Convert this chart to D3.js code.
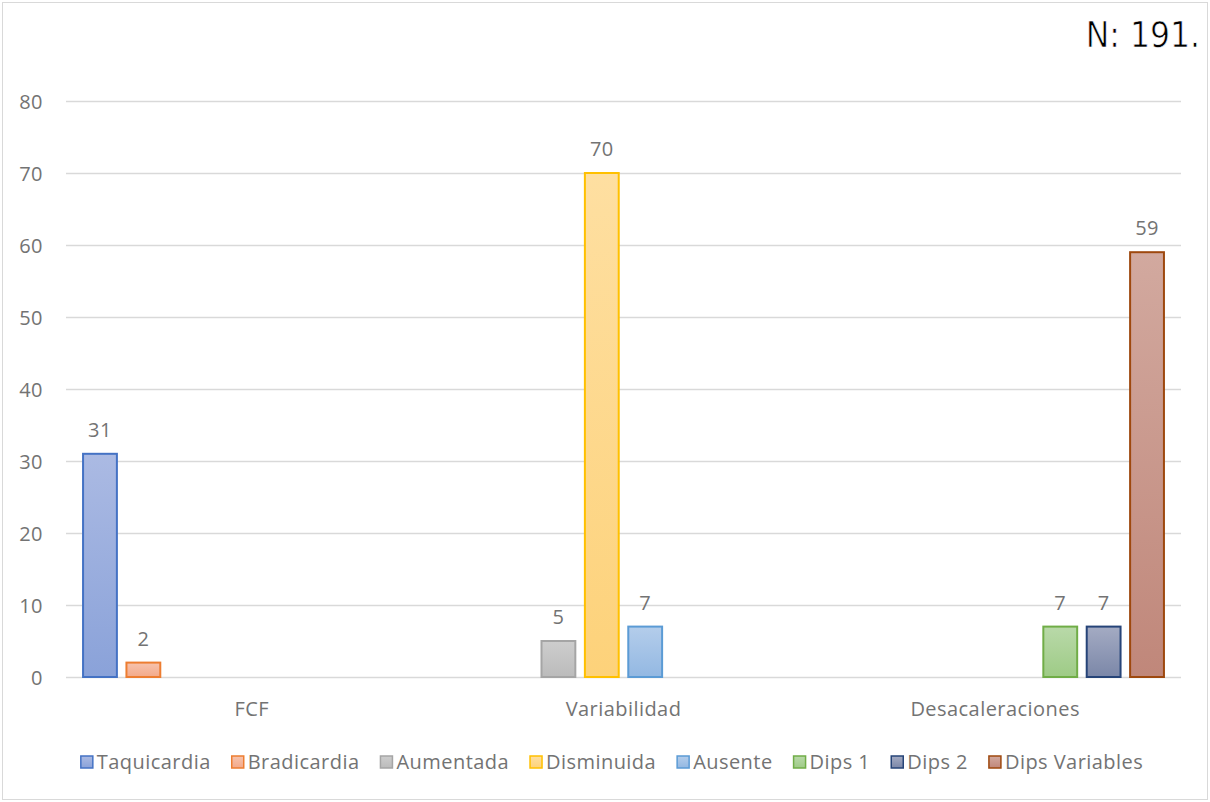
<!DOCTYPE html>
<html>
<head>
<meta charset="utf-8">
<script src="https://cdn.jsdelivr.net/npm/d3@7"></script>
<style>
  html, body { margin: 0; padding: 0; background: #fff; }
  svg { display: block; }
</style>
</head>
<body>
<svg id="chart" width="1210" height="802"></svg>
<script>
// Categories and series
const categories = ["FCF", "Variabilidad", "Desacaleraciones"];
const seriesNames = ["Taquicardia", "Bradicardia", "Aumentada", "Disminuida", "Ausente", "Dips 1", "Dips 2", "Dips Variables"];
// values per series, one entry per category (null = no bar)
const taquicardia   = [31, null, null];
const bradicardia   = [2, null, null];
const aumentada     = [null, 5, null];
const disminuida    = [null, 70, null];
const ausente       = [null, 7, null];
const dips1         = [null, null, 7];
const dips2         = [null, null, 7];
const dipsVariables = [null, null, 59];
const yTicks = [0, 10, 20, 30, 40, 50, 60, 70, 80];
const sampleNote = "N: 191.";

const seriesValues = [taquicardia, bradicardia, aumentada, disminuida, ausente, dips1, dips2, dipsVariables];

// stroke, gradient top, gradient bottom
const seriesStyle = [
  { stroke: "#4472C4", top: "#abbae3", bottom: "#8aa2d9" },
  { stroke: "#ED7D31", top: "#f7c3ad", bottom: "#f3a989" },
  { stroke: "#A5A5A5", top: "#cdcdcd", bottom: "#bbbbbb" },
  { stroke: "#FFC000", top: "#fedfa1", bottom: "#fdd27a" },
  { stroke: "#5B9BD5", top: "#b4cdeb", bottom: "#93b8e2" },
  { stroke: "#70AD47", top: "#b9d9a9", bottom: "#9ecb86" },
  { stroke: "#264478", top: "#a4abc3", bottom: "#7b87a8" },
  { stroke: "#9E480E", top: "#d2a99f", bottom: "#c0877a" }
];

const svg = d3.select("#chart");
const W = 1210, H = 802;
const textFont = "'Open Sans', 'Noto Sans', sans-serif";
const textSize = 20;
const textSpacing = 0.45;
const gray = "#737373";

// outer frame
svg.append("rect")
  .attr("x", 2.5).attr("y", 2.5)
  .attr("width", W - 5).attr("height", H - 5)
  .attr("fill", "#fff").attr("stroke", "#d9d9d9").attr("stroke-width", 1);

const plot = { left: 66, right: 1181, top: 101, bottom: 677 };

const y = d3.scaleLinear().domain([0, 80]).range([plot.bottom, plot.top]);
const x0 = d3.scaleBand().domain(categories).range([plot.left, plot.right]).paddingInner(0).paddingOuter(0);
const x1 = d3.scaleBand().domain(seriesNames)
  .range([0, x0.bandwidth()])
  .paddingInner(0.174).paddingOuter(0.37);

// gradients
const defs = svg.append("defs");
seriesStyle.forEach((s, i) => {
  const g = defs.append("linearGradient")
    .attr("id", "grad" + i)
    .attr("x1", 0).attr("y1", 0).attr("x2", 0).attr("y2", 1);
  g.append("stop").attr("offset", "0%").attr("stop-color", s.top);
  g.append("stop").attr("offset", "100%").attr("stop-color", s.bottom);
});

// gridlines
svg.append("g")
  .selectAll("line")
  .data(yTicks)
  .join("line")
  .attr("x1", plot.left).attr("x2", plot.right)
  .attr("y1", d => Math.round(y(d)) + 0.5).attr("y2", d => Math.round(y(d)) + 0.5)
  .attr("stroke", "#d9d9d9").attr("stroke-width", 1.5);

// y axis labels
const yAxis = d3.axisLeft(y).tickValues(yTicks).tickSize(0).tickPadding(0);
const yg = svg.append("g").attr("transform", `translate(${plot.left - 23},0)`).call(yAxis);
yg.select(".domain").remove();
yg.selectAll("text")
  .attr("font-family", textFont).attr("font-size", textSize)
  .attr("letter-spacing", textSpacing)
  .attr("fill", gray).attr("dy", "0.35em");

// x axis labels
const xAxis = d3.axisBottom(x0).tickSize(0).tickPadding(0);
const xg = svg.append("g").attr("transform", `translate(0,${plot.bottom + 32})`).call(xAxis);
xg.select(".domain").remove();
xg.selectAll("text")
  .attr("font-family", textFont).attr("font-size", textSize)
  .attr("letter-spacing", textSpacing)
  .attr("fill", gray).attr("dy", "0.35em");

// bars
const barData = [];
seriesNames.forEach((name, si) => {
  seriesValues[si].forEach((v, ci) => {
    if (v != null) barData.push({ series: name, si, cat: categories[ci], value: v });
  });
});

const bars = svg.append("g");
bars.selectAll("rect")
  .data(barData)
  .join("rect")
  .attr("x", d => x0(d.cat) + x1(d.series) + 1)
  .attr("width", x1.bandwidth() - 2)
  .attr("y", d => y(d.value))
  .attr("height", d => y(0) - y(d.value))
  .attr("fill", d => `url(#grad${d.si})`)
  .attr("stroke", d => seriesStyle[d.si].stroke)
  .attr("stroke-width", 2);

// value labels
bars.selectAll("text")
  .data(barData)
  .join("text")
  .attr("x", d => x0(d.cat) + x1(d.series) + x1.bandwidth() / 2)
  .attr("y", d => y(d.value) - 17)
  .attr("text-anchor", "middle")
  .attr("font-family", textFont).attr("font-size", textSize)
  .attr("letter-spacing", textSpacing)
  .attr("fill", gray)
  .text(d => d.value);

// legend
const legend = svg.append("g");
const legendY = 762;
const items = legend.selectAll("g")
  .data(seriesNames)
  .join("g");
items.append("rect")
  .attr("width", 12).attr("height", 12)
  .attr("y", legendY - 6)
  .attr("fill", (d, i) => `url(#grad${i})`)
  .attr("stroke", (d, i) => seriesStyle[i].stroke)
  .attr("stroke-width", 1.5);
items.append("text")
  .attr("x", 16)
  .attr("y", legendY)
  .attr("dy", "0.35em")
  .attr("font-family", textFont).attr("font-size", textSize)
  .attr("letter-spacing", textSpacing)
  .attr("fill", gray)
  .text(d => d);
const itemGap = 21;
let cursor = 0;
const offsets = [];
items.each(function () {
  offsets.push(cursor);
  cursor += this.getBBox().width + itemGap;
});
const total = cursor - itemGap;
const startX = (W - total) / 2 + 7;
items.attr("transform", (d, i) => `translate(${startX + offsets[i]},0)`);

// sample size note (thin white outline lightens the glyph weight)
svg.append("text")
  .attr("x", 1200).attr("y", 47)
  .attr("text-anchor", "end")
  .attr("font-family", "'Liberation Sans Narrow', 'DejaVu Sans Condensed', sans-serif")
  .attr("font-size", 35)
  .attr("fill", "#000")
  .attr("stroke", "#fff").attr("stroke-width", 0.7)
  .text(sampleNote);
</script>
</body>
</html>
